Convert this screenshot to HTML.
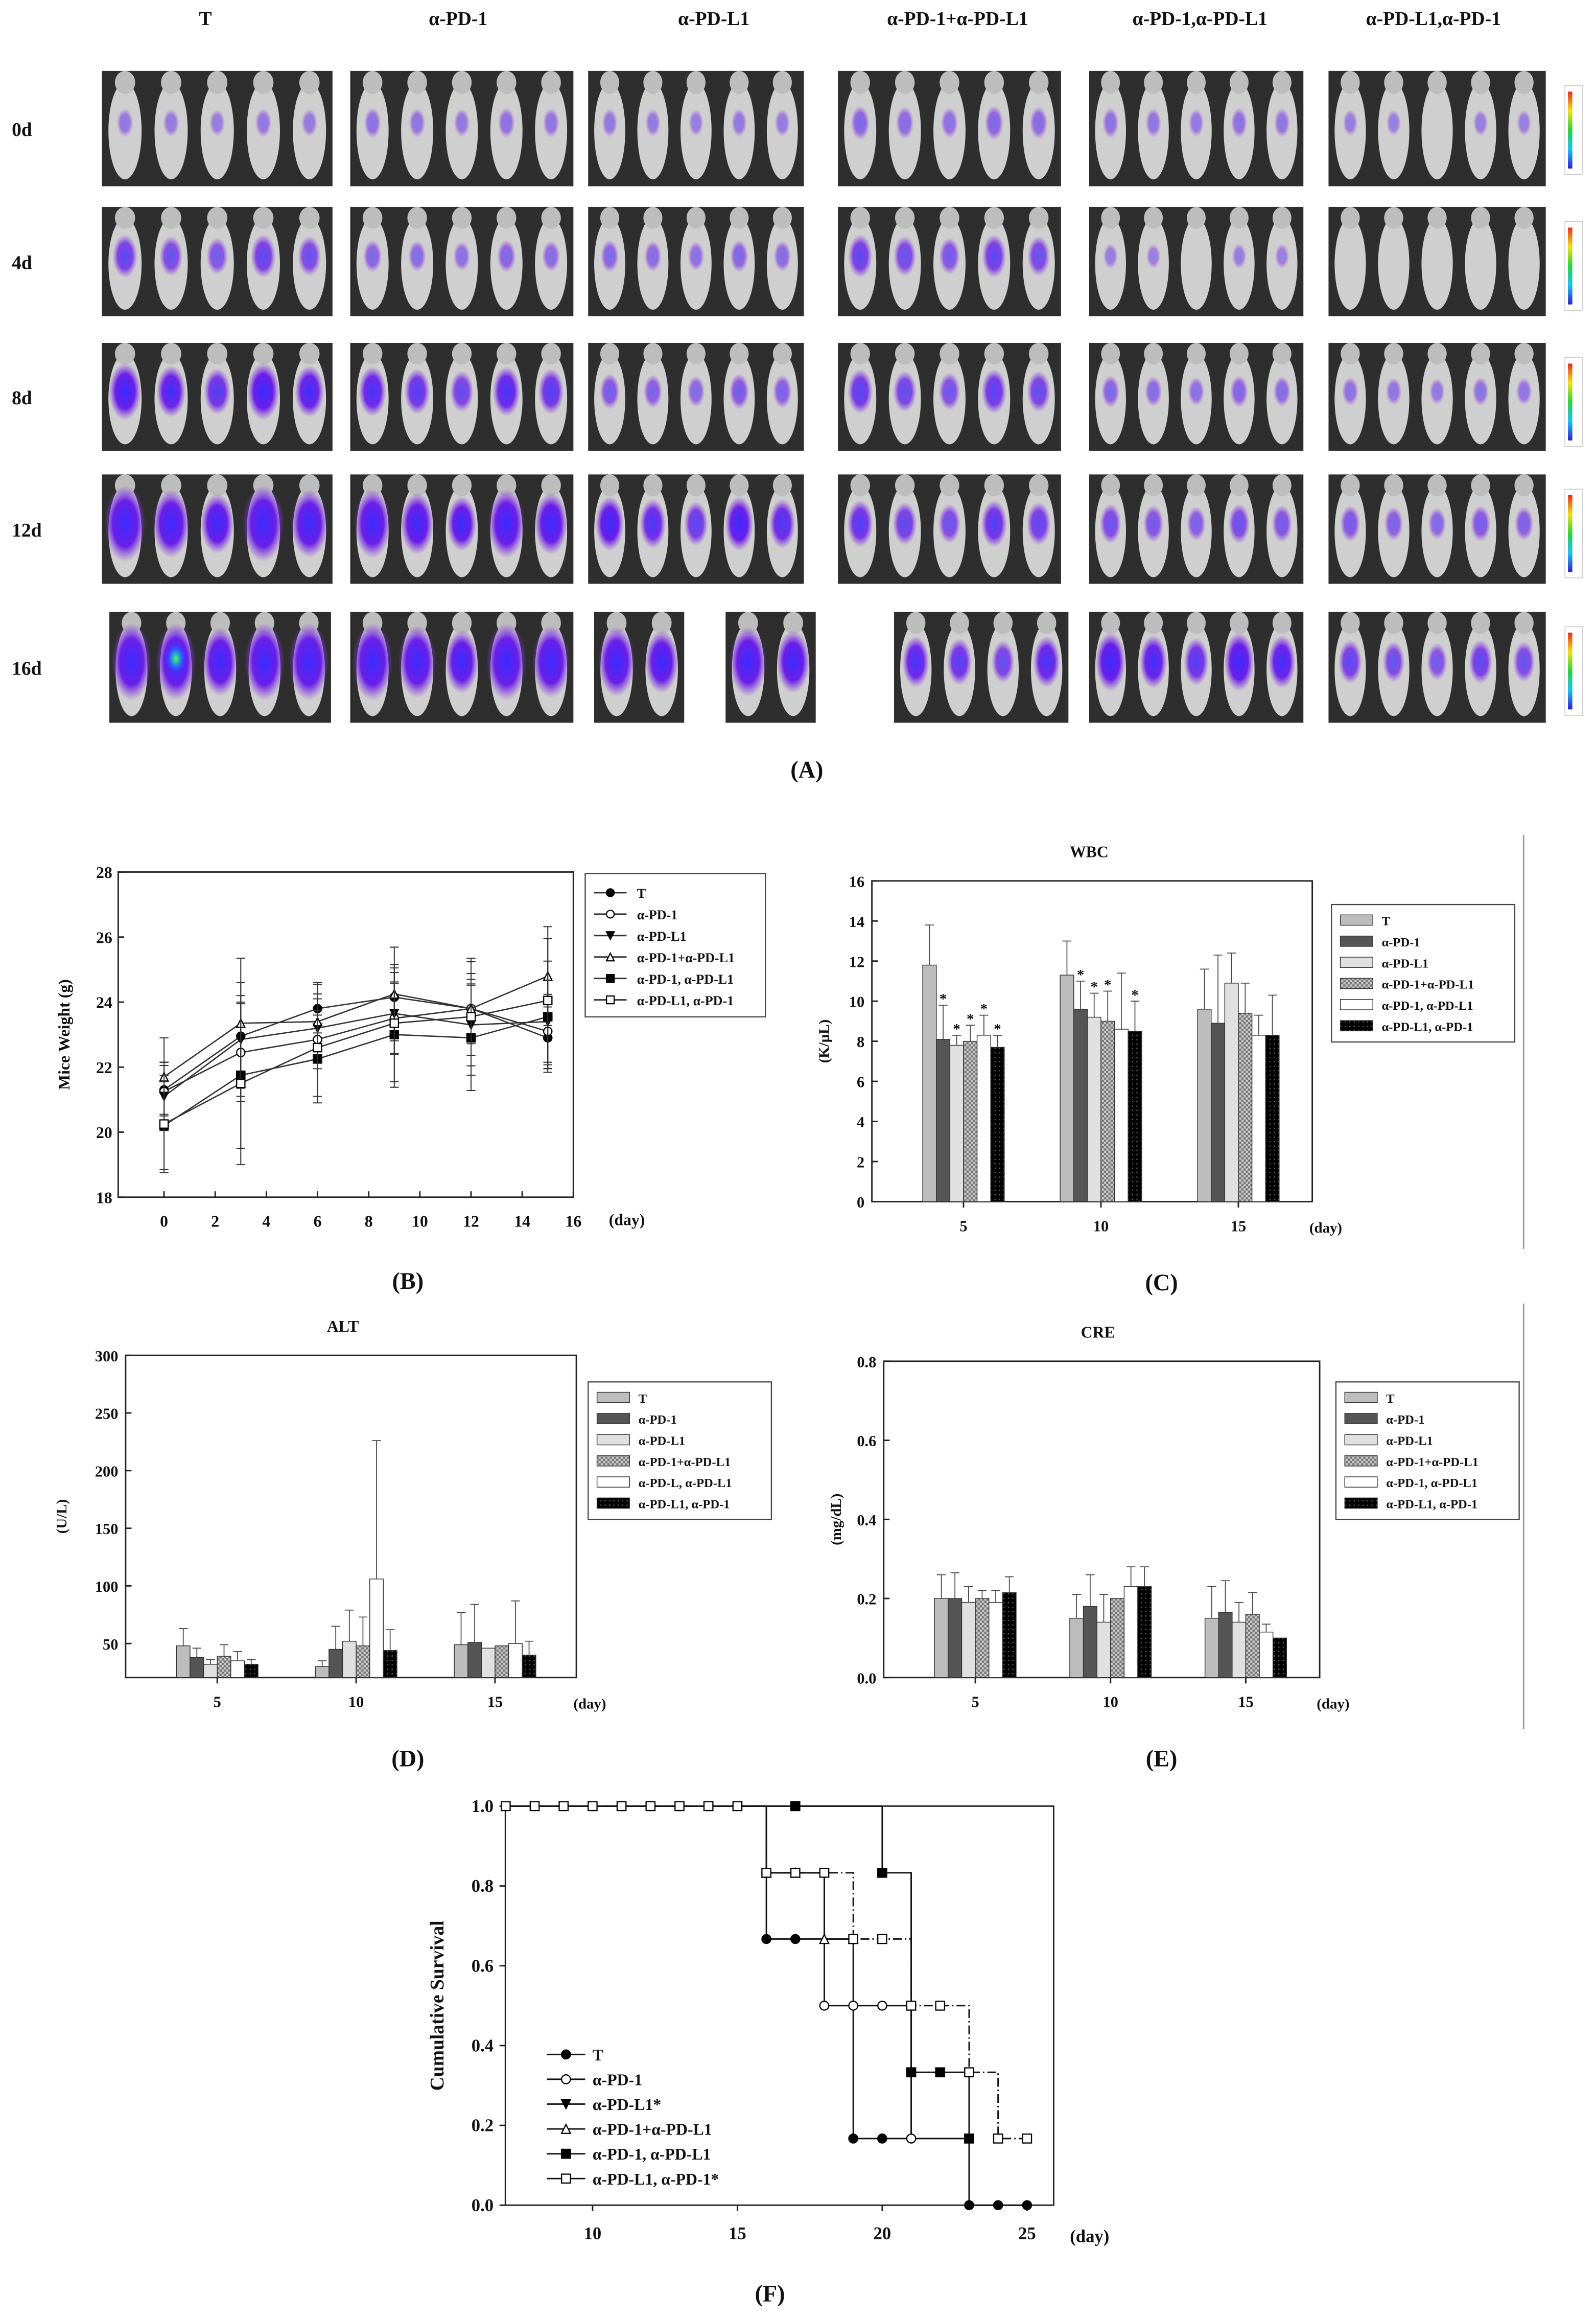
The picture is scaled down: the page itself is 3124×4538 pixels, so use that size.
<!DOCTYPE html>
<html><head><meta charset="utf-8"><style>
html,body{margin:0;padding:0;background:#fff}
svg{display:block}
text{font-family:"Liberation Serif",serif;font-weight:bold;fill:#111}
</style></head><body>
<svg id="fig" xmlns="http://www.w3.org/2000/svg" width="3124" height="4538" viewBox="0 0 1080 1569" preserveAspectRatio="none">
<defs>
<pattern id="chk" width="3" height="3" patternUnits="userSpaceOnUse"><rect width="3" height="3" fill="#c8c8c8"/><rect width="1.5" height="1.5" fill="#777"/><rect x="1.5" y="1.5" width="1.5" height="1.5" fill="#777"/></pattern>
<pattern id="dots" width="3" height="3" patternUnits="userSpaceOnUse"><rect width="3" height="3" fill="#000"/><rect x="1" y="1" width="0.8" height="0.8" fill="#666"/></pattern>
<radialGradient id="blob"><stop offset="0" stop-color="#3a2cff"/><stop offset="0.6" stop-color="#6a1fe8"/><stop offset="1" stop-color="#8a3ae0" stop-opacity="0"/></radialGradient>
<radialGradient id="hot"><stop offset="0" stop-color="#40ff60"/><stop offset="0.5" stop-color="#2a6cff"/><stop offset="1" stop-color="#3a2cff" stop-opacity="0"/></radialGradient>
<linearGradient id="cbar" x1="0" y1="0" x2="0" y2="1"><stop offset="0" stop-color="#e03020"/><stop offset="0.25" stop-color="#f0e020"/><stop offset="0.5" stop-color="#30d040"/><stop offset="0.75" stop-color="#20c0f0"/><stop offset="1" stop-color="#3020d0"/></linearGradient>
</defs>
<g id="panelA"></g>
<g id="panelB"></g>
<g id="panelC"></g>
<g id="panelD"></g>
<g id="panelE"></g>
<g id="panelF"></g>
<line x1="1031" y1="565" x2="1031" y2="845" stroke="#999" stroke-width="1"/>
<line x1="1031" y1="882" x2="1031" y2="1170" stroke="#999" stroke-width="1"/>
</svg>
<script>
// ---------- DATA ----------
const groupNames = ["T","α-PD-1","α-PD-L1","α-PD-1+α-PD-L1","α-PD-1,α-PD-L1","α-PD-L1,α-PD-1"];
const dayRows = ["0d","4d","8d","12d","16d"];
const signal = [[0.3,0.4,0.3,0.6,0.4,0.2],[1.2,0.6,0.6,1.2,0.2,0.1],[2,1.6,0.8,1.3,0.6,0.4],[3,2.6,1.8,1.4,1.0,0.8],[3.6,3.2,2.6,1.6,2.0,1.2]];

const weightDays = [0,3,6,9,12,15];
const weightT = [21.3,22.95,23.8,24.15,23.8,22.9];
const weightPD1 = [21.25,22.45,22.85,23.5,23.8,23.1];
const weightPDL1 = [21.1,22.85,23.2,23.65,23.3,23.4];
const weightCombo = [21.7,23.35,23.4,24.25,23.8,24.8];
const weightSeq1 = [20.2,21.75,22.25,23.0,22.9,23.55];
const weightSeq2 = [20.25,21.5,22.6,23.35,23.55,24.05];
const weightErr = [1.5,2.5,1.5,1.8,1.8,1.9];
const weightTicks = [18,20,22,24,26,28];
const weightXTicks = [0,2,4,6,8,10,12,14,16];

const labDays = [5,10,15];
const wbcVals = [[11.8,8.1,7.8,8.0,8.3,7.7],[11.3,9.6,9.2,9.0,8.6,8.5],[9.6,8.9,10.9,9.4,8.3,8.3]];
const wbcErr = [[2.0,1.7,0.5,0.8,1.0,0.6],[1.7,1.4,1.2,1.5,2.8,1.5],[2.0,3.4,1.5,1.5,1.0,2.0]];
const wbcTicks = [0,2,4,6,8,10,12,14,16];
const altVals = [[48,38,32,39,35,32],[30,45,52,48,106,44],[49,51,46,48,50,40]];
const altErr = [[15,8,4,10,8,4],[5,20,27,25,120,18],[28,33,0,0,37,12]];
const altTicks = [50,100,150,200,250,300];
const creVals = [[0.20,0.20,0.19,0.20,0.19,0.215],[0.15,0.18,0.14,0.20,0.23,0.23],[0.15,0.165,0.14,0.16,0.115,0.10]];
const creErr = [[0.06,0.065,0.04,0.02,0.03,0.04],[0.06,0.08,0.07,0,0.05,0.05],[0.08,0.08,0.05,0.055,0.02,0]];
const creTicks = [0.0,0.2,0.4,0.6,0.8];

const survDaysT = [7,8,9,10,11,12,13,14,15,16,17,19,20,23,24,25];
const survT = [1,1,1,1,1,1,1,1,1,0.667,0.667,0.167,0.167,0,0,0];
const survDaysPD1 = [16,17,18,19,20,21];
const survPD1 = [0.833,0.833,0.5,0.5,0.5,0.167];
const survDaysCombo = [16,17,18,19];
const survCombo = [0.833,0.833,0.667,0.667];
const survDaysSeq1 = [17,20,21,22,23];
const survSeq1 = [1,0.833,0.333,0.333,0.167];
const survDaysSeq2 = [7,8,9,10,11,12,13,14,15,16,17,18,19,20,21,22,23,24,25];
const survSeq2 = [1,1,1,1,1,1,1,1,1,0.833,0.833,0.833,0.667,0.667,0.5,0.5,0.333,0.167,0.167];
const survTicks = [0,0.2,0.4,0.6,0.8,1.0];
const survXTicks = [10,15,20,25];

// ---------- HELPERS ----------
const NS = "http://www.w3.org/2000/svg";
function mk(parent, tag, attrs, txt){
  const e = document.createElementNS(NS, tag);
  for (const k in attrs) e.setAttribute(k, attrs[k]);
  if (txt !== undefined) e.textContent = txt;
  parent.appendChild(e);
  return e;
}
function lin(d0,d1,r0,r1){return v=>r0+(v-d0)*(r1-r0)/(d1-d0);}

// ---------- PANEL A ----------
(function(){
  const g = document.getElementById('panelA');
  const colX = [139,310,483,648,812,970];
  groupNames.forEach((n,i)=>{
    const t = mk(g,'text',{x:colX[i],y:17,'text-anchor':'middle','font-size':13},n);
    
    
  });
  const rowY = [[48,126],[140,214],[232,305],[321,395],[414,489]];
  const cols = [[69,225],[237,388],[398,544],[567,718],[737,882],[899,1046]];
  dayRows.forEach((d,r)=>{
    const t = mk(g,'text',{x:8,y:(rowY[r][0]+rowY[r][1])/2+5,'font-size':13},d);
    
    
    const cb = mk(g,'rect',{x:1059,y:rowY[r][0]+10,width:12,height:60,fill:'#fff',stroke:'#ccc','stroke-width':0.6});
    
    
    mk(g,'rect',{x:1061,y:rowY[r][0]+14,width:3,height:52,fill:'url(#cbar)'});
    cols.forEach((c,i)=>{
      let segs = [[c[0],c[1],5]];
      if (r===4 && i===2) segs = [[402,463,2],[491,552,2]];
      if (r===4 && i===3) segs = [[605,723,4]];
      if (r===4 && i===0) segs = [[74,224,5]];
      segs.forEach(s=>{
        const im = mk(g,'g',{});
        
        
        const y0=rowY[r][0], h=rowY[r][1]-y0, w=s[1]-s[0];
        mk(im,'rect',{x:s[0],y:y0,width:w,height:h,fill:'#2e2e2e'});
        const n=s[2], mw=w/n;
        for(let m=0;m<n;m++){
          const cx=s[0]+mw*(m+0.5);
          mk(im,'ellipse',{cx:cx,cy:y0+h*0.52,rx:mw*0.36,ry:h*0.42,fill:'#cfcfcf'});
          mk(im,'ellipse',{cx:cx,cy:y0+h*0.1,rx:mw*0.22,ry:h*0.1,fill:'#bdbdbd'});
          const sv = signal[r][i]*(1-0.15*((m*7)%3));
          if (sv>0.15){
            const rr = Math.min(1, sv/3);
            mk(im,'ellipse',{cx:cx,cy:y0+h*0.45,rx:mw*(0.15+0.3*rr),ry:h*(0.1+0.25*rr),fill:'url(#blob)',opacity:Math.min(1,0.4+sv/3)});
          }
          if (signal[r][i]>3.3 && m===1) mk(im,'ellipse',{cx:cx,cy:y0+h*0.42,rx:mw*0.25,ry:h*0.15,fill:'url(#hot)'});
        }
      });
    });
  });
  const lab = mk(g,'text',{x:546,y:526,'text-anchor':'middle','font-size':16,'font-weight':'normal'},'(A)');
  
  
})();

// ---------- PANEL B ----------
(function(){
  const g = document.getElementById('panelB');
  const X = lin(0,16,111,388), Y = lin(18,28,810,590);
  mk(g,'rect',{x:80,y:590,width:308,height:220,fill:'none',stroke:'#222','stroke-width':1});
  weightTicks.forEach(v=>{
    mk(g,'line',{x1:80,x2:84,y1:Y(v),y2:Y(v),stroke:'#222'});
    const t=mk(g,'text',{x:76,y:Y(v)+4,'text-anchor':'end','font-size':11,'font-weight':'normal'},v);
    
    
  });
  weightXTicks.forEach(v=>{
    mk(g,'line',{x1:X(v),x2:X(v),y1:810,y2:806,stroke:'#222'});
    const t=mk(g,'text',{x:X(v),y:830,'text-anchor':'middle','font-size':11,'font-weight':'normal'},v);
    
    
  });
  mk(g,'text',{x:412,y:829,'font-size':11},'(day)');
  const yl=mk(g,'text',{x:47,y:700,'text-anchor':'middle','font-size':11,transform:'rotate(-90 47 700)'},'Mice Weight (g)');
  
  
  const series=[weightT,weightPD1,weightPDL1,weightCombo,weightSeq1,weightSeq2];
  const markers=['fc','oc','ft','ot','fs','os'];
  function marker(p,type,x,y,s){
    const fill = type[0]==='f'?'#000':'#fff';
    let e;
    if(type[1]==='c') e=mk(p,'circle',{cx:x,cy:y,r:s,fill:fill,stroke:'#000','stroke-width':0.8});
    else if(type[1]==='s') e=mk(p,'rect',{x:x-s,y:y-s,width:2*s,height:2*s,fill:fill,stroke:'#000','stroke-width':0.8});
    else if(type==='ft') e=mk(p,'polygon',{points:`${x-s},${y-s} ${x+s},${y-s} ${x},${y+s}`,fill:fill,stroke:'#000','stroke-width':0.8});
    else e=mk(p,'polygon',{points:`${x-s},${y+s} ${x+s},${y+s} ${x},${y-s}`,fill:fill,stroke:'#000','stroke-width':0.8});
    return e;
  }
  window.marker=marker;
  series.forEach((s,si)=>{
    const sg=mk(g,'g',{});
    
    
    s.forEach((v,j)=>{
      const e=weightErr[j]*(0.5+0.1*si);
      mk(sg,'line',{x1:X(weightDays[j]),x2:X(weightDays[j]),y1:Y(v-e),y2:Y(v+e),stroke:'#333','stroke-width':0.7});
      [v-e,v+e].forEach(q=>mk(sg,'line',{x1:X(weightDays[j])-3,x2:X(weightDays[j])+3,y1:Y(q),y2:Y(q),stroke:'#333','stroke-width':0.7}));
    });
    mk(sg,'polyline',{points:s.map((v,j)=>X(weightDays[j])+','+Y(v)).join(' '),fill:'none',stroke:'#333','stroke-width':0.9});
    s.forEach((v,j)=>{const m=marker(sg,markers[si],X(weightDays[j]),Y(v),2.8);});
  });
  const lg=mk(g,'g',{});
  
  
  mk(lg,'rect',{x:396,y:591,width:122,height:97,fill:'#fff',stroke:'#444','stroke-width':0.8});
  const names=['T','α-PD-1','α-PD-L1','α-PD-1+α-PD-L1','α-PD-1, α-PD-L1','α-PD-L1, α-PD-1'];
  names.forEach((n,i)=>{
    const y=604+i*14.5;
    mk(lg,'line',{x1:402,x2:424,y1:y,y2:y,stroke:'#333'});
    marker(lg,markers[i],413,y,2.6);
    const t=mk(lg,'text',{x:431,y:y+3.5,'font-size':9},n);
    
    
  });
  mk(g,'text',{x:276,y:872,'text-anchor':'middle','font-size':16,'font-weight':'normal'},'(B)');
})();

// ---------- BAR CHARTS ----------
const barFills=['#bdbdbd','#555','#e0e0e0','url(#chk)','#fff','url(#dots)'];
function barChart(gid, cfg){
  const g=document.getElementById(gid);
  const {bx,by,bw,bh,ymin,ymax,ticks,x5,x15,vals,errs,title,tx,ytitle,ylx,lgx,lgy,names,lab,labx,dec,stars}=cfg;
  const Y=lin(ymin,ymax,by+bh,by), X=lin(5,15,x5,x15);
  mk(g,'text',{x:tx,y:by-16,'text-anchor':'middle','font-size':11},title);
  mk(g,'rect',{x:bx,y:by,width:bw,height:bh,fill:'none',stroke:'#222','stroke-width':1});
  ticks.forEach(v=>{
    mk(g,'line',{x1:bx,x2:bx+4,y1:Y(v),y2:Y(v),stroke:'#222'});
    const t=mk(g,'text',{x:bx-5,y:Y(v)+4,'text-anchor':'end','font-size':10.5,'font-weight':'normal'},v.toFixed(dec));
    
    
  });
  labDays.forEach((d,gi)=>{
    const cx=X(d);
    mk(g,'line',{x1:cx,x2:cx,y1:by+bh,y2:by+bh+4,stroke:'#222'});
    const t=mk(g,'text',{x:cx,y:by+bh+20,'text-anchor':'middle','font-size':10.5,'font-weight':'normal'},d);
    
    
    vals[gi].forEach((v,si)=>{
      const w=9.2, x=cx-3*w+si*w;
      const r=mk(g,'rect',{x:x,y:Y(v),width:w,height:Y(ymin)-Y(v),fill:barFills[si],stroke:'#333','stroke-width':0.5});
      
      
      const e=errs[gi][si];
      if(e>0){
        mk(g,'line',{x1:x+w/2,x2:x+w/2,y1:Y(v),y2:Y(v+e),stroke:'#444','stroke-width':0.6});
        mk(g,'line',{x1:x+w/2-3,x2:x+w/2+3,y1:Y(v+e),y2:Y(v+e),stroke:'#444','stroke-width':0.6});
      }
      if(stars && stars[gi][si]) mk(g,'text',{x:x+w/2,y:Y(v+e)-1,'text-anchor':'middle','font-size':10,'font-weight':'normal',fill:'#333'},'*');
    });
  });
  mk(g,'text',{x:bx+bw-2,y:by+bh+21,'font-size':10},'(day)');
  const yl=mk(g,'text',{x:ylx,y:by+bh/2,'text-anchor':'middle','font-size':10,transform:`rotate(-90 ${ylx} ${by+bh/2})`},ytitle);
  
  
  const lg=mk(g,'g',{});
  
  
  mk(lg,'rect',{x:lgx,y:lgy,width:124,height:93,fill:'#fff',stroke:'#444','stroke-width':0.8});
  names.forEach((n,i)=>{
    const y=lgy+11+i*14.3;
    mk(lg,'rect',{x:lgx+6,y:y-4,width:22,height:7,fill:barFills[i],stroke:'#333','stroke-width':0.5});
    const t=mk(lg,'text',{x:lgx+34,y:y+3,'font-size':8.5},n);
    
    
  });
  mk(g,'text',{x:labx,y:by+bh+60,'text-anchor':'middle','font-size':16,'font-weight':'normal'},lab);
}
const namesA=['T','α-PD-1','α-PD-L1','α-PD-1+α-PD-L1','α-PD-1, α-PD-L1','α-PD-L1, α-PD-1'];
barChart('panelC',{bx:590,by:596,bw:298,bh:217,ymin:0,ymax:16,ticks:wbcTicks,x5:652,x15:838,vals:wbcVals,errs:wbcErr,title:'WBC',tx:737,ytitle:'(K/μL)',ylx:561,lgx:901,lgy:612,names:namesA,lab:'(C)',labx:786,dec:0,
  stars:[[0,1,1,1,1,1],[0,1,1,1,0,1],[0,0,0,0,0,0]]});
barChart('panelD',{bx:85,by:917,bw:305,bh:218,ymin:20.5,ymax:300,ticks:altTicks,x5:147,x15:335,vals:altVals,errs:altErr,title:'ALT',tx:232,ytitle:'(U/L)',ylx:45,lgx:398,lgy:935,names:['T','α-PD-1','α-PD-L1','α-PD-1+α-PD-L1','α-PD-L, α-PD-L1','α-PD-L1, α-PD-1'],lab:'(D)',labx:276,dec:0});
barChart('panelE',{bx:598,by:921,bw:295,bh:214,ymin:0,ymax:0.8,ticks:creTicks,x5:660,x15:843,vals:creVals,errs:creErr,title:'CRE',tx:743,ytitle:'(mg/dL)',ylx:569,lgx:904,lgy:935,names:namesA,lab:'(E)',labx:786,dec:1});

// ---------- PANEL F ----------
(function(){
  const g=document.getElementById('panelF');
  const X=lin(10,25,401,695), Y=lin(0,1,1492,1222);
  mk(g,'rect',{x:342,y:1222,width:371,height:270,fill:'none',stroke:'#222','stroke-width':1});
  survTicks.forEach(v=>{
    mk(g,'line',{x1:342,x2:338,y1:Y(v),y2:Y(v),stroke:'#222'});
    const t=mk(g,'text',{x:334,y:Y(v)+4,'text-anchor':'end','font-size':12,'font-weight':'normal'},v.toFixed(1));
    
    
  });
  survXTicks.forEach(v=>{
    mk(g,'line',{x1:X(v),x2:X(v),y1:1492,y2:1496,stroke:'#222'});
    const t=mk(g,'text',{x:X(v),y:1515,'text-anchor':'middle','font-size':12,'font-weight':'normal'},v);
    
    
  });
  mk(g,'text',{x:724,y:1517,'font-size':12},'(day)');
  const yl=mk(g,'text',{x:300,y:1357,'text-anchor':'middle','font-size':13,transform:'rotate(-90 300 1357)'},'Cumulative Survival');
  
  
  const ser=[[survDaysT,survT,'fc',''],[survDaysPD1,survPD1,'oc',''],[survDaysCombo,survCombo,'ot',''],[survDaysSeq1,survSeq1,'fs',''],[survDaysSeq2,survSeq2,'os','6,2,1,2']];
  ser.forEach((s,si)=>{
    const sg=mk(g,'g',{});
    
    
    const d=s[0], v=s[1];
    let pts=[];
    let prev = si===0||si===4 ? null : 1;
    if(prev!==null) pts.push(X(d[0]-1)+','+Y(1));
    d.forEach((dd,j)=>{
      if(pts.length){const last=pts[pts.length-1].split(',');pts.push(X(dd)+','+last[1]);}
      pts.push(X(dd)+','+Y(v[j]));
    });
    mk(sg,'polyline',{points:pts.join(' '),fill:'none',stroke:'#111','stroke-width':1,'stroke-dasharray':s[3]});
    d.forEach((dd,j)=>{const m=marker(sg,s[2],X(dd),Y(v[j]),3);});
  });
  const lg=mk(g,'g',{});
  
  
  const nm=['T','α-PD-1','α-PD-L1*','α-PD-1+α-PD-L1','α-PD-1, α-PD-L1','α-PD-L1, α-PD-1*'];
  const mks=['fc','oc','ft','ot','fs','os'];
  nm.forEach((n,i)=>{
    const y=1390+i*16.8;
    mk(lg,'line',{x1:370,x2:396,y1:y,y2:y,stroke:'#111'});
    marker(lg,mks[i],383,y,3);
    const t=mk(lg,'text',{x:401,y:y+4,'font-size':11},n);
    
    
  });
  mk(g,'text',{x:521,y:1557,'text-anchor':'middle','font-size':16,'font-weight':'normal'},'(F)');
})();
</script>
</body></html>
